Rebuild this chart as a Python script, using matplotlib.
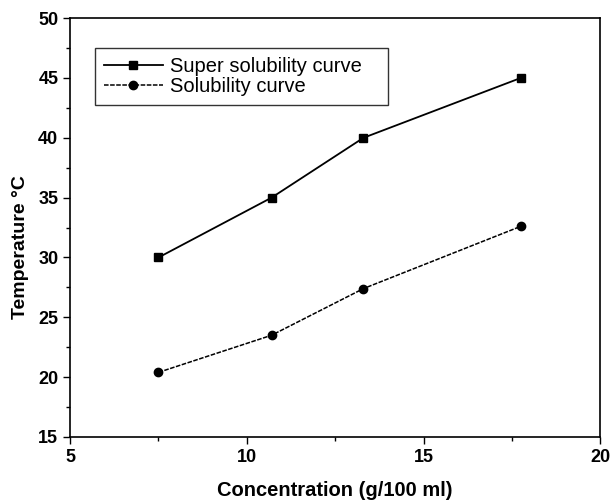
import matplotlib
matplotlib.use("Agg")
import matplotlib.pyplot as plt
from matplotlib.ticker import MultipleLocator

plt.rcParams['font.family'] = ['Liberation Sans', 'DejaVu Sans']

# concentration (g/100 ml)
conc = [7.5, 10.7, 13.3, 17.75]
# temperatures (deg C)
super_sol = [30, 35, 40, 45]
sol = [20.4, 23.5, 27.4, 32.6]

fig = plt.figure(figsize=(6.1, 5.04), dpi=100)
ax = fig.add_axes([0.115, 0.133, 0.869, 0.831])

ax.plot(conc, super_sol, color="black", lw=1.3, marker="s", ms=6,
        label="Super solubility curve")
ax.plot(conc, sol, color="black", lw=1.1, ls=(0, (3, 1)), marker="o", ms=6,
        label="Solubility curve")

ax.set_xlim(5, 20)
ax.set_ylim(15, 50)
ax.xaxis.set_major_locator(MultipleLocator(5))
ax.xaxis.set_minor_locator(MultipleLocator(2.5))
ax.yaxis.set_major_locator(MultipleLocator(5))
ax.yaxis.set_minor_locator(MultipleLocator(2.5))
ax.tick_params(which="both", direction="out", top=False, right=False)
ax.tick_params(which="major", length=5, width=1, labelsize=13)
ax.tick_params(which="minor", length=3, width=1)
for lbl in ax.get_xticklabels() + ax.get_yticklabels():
    lbl.set_fontweight("bold")
for s in ax.spines.values():
    s.set_linewidth(1.2)

ax.set_xlabel("Concentration (g/100 ml)", fontsize=14.5, fontweight="bold", labelpad=11)
ax.set_ylabel("Temperature °C", fontsize=14, fontweight="bold")
ax.yaxis.set_label_coords(-0.077, 0.453)

# legend box spans roughly x 0.047-0.60 of the axes, like the original
leg = ax.legend(loc="upper left", bbox_to_anchor=(0.047, 0.797, 0.553, 0.131),
                mode="expand", borderaxespad=0,
                fontsize=14.5, frameon=True, fancybox=False, edgecolor="black",
                handlelength=2.9, borderpad=0.45, labelspacing=0.05, handletextpad=0.35)
leg.get_frame().set_linewidth(1.0)

fig.savefig("out.png", dpi=100)
